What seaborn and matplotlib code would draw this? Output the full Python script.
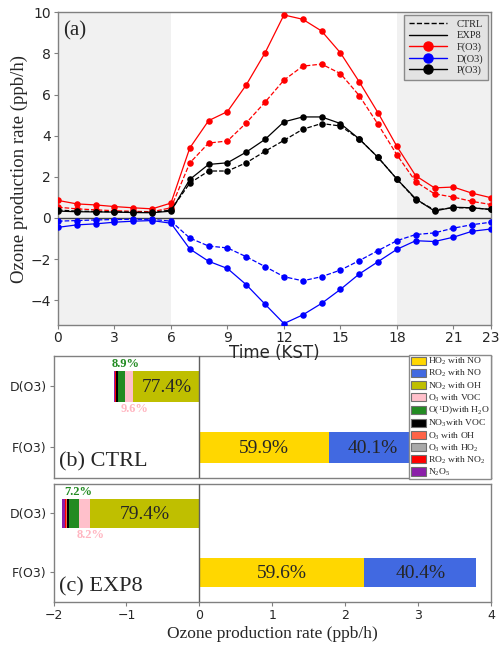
import numpy as np
import matplotlib
matplotlib.use("Agg")
import matplotlib.pyplot as plt
from matplotlib.lines import Line2D
from matplotlib.patches import Patch
import seaborn as sns

# ---------------- data ----------------
hours = list(range(24))
F_ctrl = [0.52, 0.44, 0.39, 0.35, 0.32, 0.30, 0.49, 2.67, 3.64, 3.74, 4.62, 5.63,
          6.70, 7.38, 7.48, 7.02, 5.95, 4.55, 3.07, 1.76, 1.17, 1.01, 0.80, 0.65]
F_exp8 = [0.85, 0.68, 0.63, 0.55, 0.49, 0.44, 0.72, 3.40, 4.73, 5.17, 6.47, 8.03,
          9.87, 9.66, 9.09, 8.03, 6.62, 5.11, 3.48, 2.05, 1.46, 1.50, 1.20, 0.98]
P_ctrl = [0.38, 0.33, 0.31, 0.30, 0.28, 0.27, 0.38, 1.69, 2.28, 2.28, 2.68, 3.24,
          3.77, 4.31, 4.59, 4.47, 3.84, 2.94, 1.89, 0.89, 0.39, 0.49, 0.49, 0.41]
P_exp8 = [0.33, 0.30, 0.29, 0.28, 0.26, 0.25, 0.33, 1.87, 2.60, 2.68, 3.20, 3.82,
          4.67, 4.91, 4.91, 4.59, 3.84, 2.94, 1.89, 0.93, 0.33, 0.52, 0.49, 0.41]
D_ctrl = [-0.16, -0.13, -0.10, -0.08, -0.07, -0.07, -0.16, -0.98, -1.37, -1.46, -1.89, -2.37,
          -2.86, -3.06, -2.86, -2.54, -2.08, -1.59, -1.11, -0.81, -0.73, -0.50, -0.33, -0.21]
D_exp8 = [-0.46, -0.34, -0.29, -0.21, -0.16, -0.13, -0.26, -1.51, -2.11, -2.46, -3.25, -4.20,
          -5.14, -4.72, -4.16, -3.48, -2.73, -2.13, -1.53, -1.11, -1.15, -0.94, -0.65, -0.54]

x_ticks = [0, 3, 6, 9, 12, 15, 18, 21, 23]
y_ticks = [-4, -2, 0, 2, 4, 6, 8, 10]

bar_cats = ["D(O3)", "F(O3)"]
# formation pathways (percent of F)
F_paths = ["HO$_2$ with NO", "RO$_2$ with NO"]
F_pct_ctrl = [59.9, 40.1]
F_pct_exp8 = [59.6, 40.4]
F_total_ctrl = 2.97
F_total_exp8 = 3.80
# destruction pathways (percent of D), stacked from zero leftwards
D_paths = ["NO$_2$ with OH", "O$_3$ with VOC", "O($^1$D)with H$_2$O", "NO$_3$with VOC",
           "O$_3$ with OH", "O$_3$ with HO$_2$", "RO$_2$ with NO$_2$", "N$_2$O$_5$"]
D_pct_ctrl = [77.4, 9.6, 8.9, 1.7, 0.4, 0.2, 0.8, 1.0]
D_pct_exp8 = [79.4, 8.2, 7.2, 1.5, 0.9, 0.3, 0.2, 2.3]
D_total_ctrl = 1.17
D_total_exp8 = 1.88

legend_order = ["HO$_2$ with NO", "RO$_2$ with NO", "NO$_2$ with OH", "O$_3$ with VOC",
                "O($^1$D)with H$_2$O", "NO$_3$with VOC", "O$_3$ with OH", "O$_3$ with HO$_2$",
                "RO$_2$ with NO$_2$", "N$_2$O$_5$"]
colors = {
    "HO$_2$ with NO": "#FFD700",
    "RO$_2$ with NO": "#4169E1",
    "NO$_2$ with OH": "#BFBF00",
    "O$_3$ with VOC": "#FFC0CB",
    "O($^1$D)with H$_2$O": "#228B22",
    "NO$_3$with VOC": "#000000",
    "O$_3$ with OH": "#FF6347",
    "O$_3$ with HO$_2$": "#A9A9A9",
    "RO$_2$ with NO$_2$": "#FF0000",
    "N$_2$O$_5$": "#8B1FA9",
}

# ---------------- style ----------------
sns.set_theme(style="ticks")
plt.rcParams["font.family"] = ["DejaVu Sans"]
plt.rcParams["mathtext.fontset"] = "custom"
plt.rcParams["mathtext.rm"] = "Liberation Serif"
plt.rcParams["mathtext.it"] = "Liberation Serif:italic"
SERIF = "Liberation Serif"
SPINE = "#808080"

fig = plt.figure(figsize=(5.0, 6.47), dpi=100)
ax1 = fig.add_axes([0.116, 0.498, 0.866, 0.483])
ax2 = fig.add_axes([0.107, 0.2612, 0.875, 0.1886])
ax3 = fig.add_axes([0.107, 0.0696, 0.875, 0.1824])
ax1.set_zorder(5)

# ---------------- panel (a) ----------------
ax1.axvspan(0, 6, color="lightgray", alpha=0.3, lw=0, zorder=0)
ax1.axvspan(18, 23, color="lightgray", alpha=0.3, lw=0, zorder=0)
ax1.axhline(0, color="#404040", lw=1.0, zorder=1)

series = [
    (F_ctrl, "red", "--"), (F_exp8, "red", "-"),
    (D_ctrl, "blue", "--"), (D_exp8, "blue", "-"),
    (P_ctrl, "black", "--"), (P_exp8, "black", "-"),
]
for vals, c, ls in series:
    sns.lineplot(x=hours, y=vals, ax=ax1, color=c, linestyle=ls, lw=0.9,
                 marker="o", markersize=4.7, markeredgewidth=0, zorder=3)

ax1.set_xlim(0, 23)
ax1.set_ylim(-5.2, 10)
ax1.set_xticks(x_ticks)
ax1.set_yticks(y_ticks)
ax1.tick_params(labelsize=10, length=3, color=SPINE, width=0.8, pad=2)
ax1.tick_params(axis="x", pad=1.5)
ax1.set_xlabel("Time (KST)", fontsize=12, labelpad=-1)
ax1.set_ylabel("Ozone production rate (ppb/h)", fontsize=13.5, family=SERIF, labelpad=2)
ax1.text(0.012, 0.94, "(a)", transform=ax1.transAxes, fontsize=15, family=SERIF,
         va="center", ha="left")

handles = [
    Line2D([], [], color="black", ls="--", lw=1.0),
    Line2D([], [], color="black", ls="-", lw=1.0),
    Line2D([], [], color="red", ls="-", lw=1.0, marker="o", markersize=6.5),
    Line2D([], [], color="blue", ls="-", lw=1.0, marker="o", markersize=6.5),
    Line2D([], [], color="black", ls="-", lw=1.0, marker="o", markersize=6.5),
]
leg = ax1.legend(handles, ["CTRL", "EXP8", "F(O3)", "D(O3)", "P(O3)"],
                 loc="upper right", prop={"family": SERIF, "size": 7.5},
                 handlelength=3.6, borderaxespad=0.25, labelspacing=0.2,
                 fancybox=False, framealpha=1, handletextpad=1.0, borderpad=0.45)
leg.get_frame().set_facecolor("#e3e3e3")
leg.get_frame().set_edgecolor("#8a8a8a")
leg.get_frame().set_linewidth(1.0)

# ---------------- panels (b) and (c) ----------------
def draw_bars(ax, F_pct, F_total, D_pct, D_total, tag, dy_small):
    ypos = {"D(O3)": 0, "F(O3)": 1}
    h = 0.5
    left = 0.0
    for name, p in zip(F_paths, F_pct):
        w = F_total * p / 100.0
        ax.barh(ypos["F(O3)"], w, left=left, height=h, color=colors[name],
                edgecolor="none", zorder=2)
        ax.text(left + w / 2, ypos["F(O3)"] + 0.02, f"{p}%", ha="center", va="center",
                fontsize=14, family=SERIF, zorder=4)
        left += w
    right = 0.0
    segs = []
    for name, p in zip(D_paths, D_pct):
        w = D_total * p / 100.0
        ax.barh(ypos["D(O3)"], -w, left=right, height=h, color=colors[name],
                edgecolor="none", zorder=2)
        segs.append((right - w, right))
        right -= w
    a, b = segs[0]
    ax.text((a + b) / 2, 0.02, f"{D_pct[0]}%", ha="center", va="center",
            fontsize=14, family=SERIF, zorder=4)
    a, b = segs[1]
    ax.text((a + b) / 2 + 0.08, 0.27, f"{D_pct[1]}%", ha="center", va="top",
            fontsize=9, family=SERIF, fontweight="bold", color="#FFB6C1", zorder=4)
    a, b = segs[2]
    ax.text((a + b) / 2 + 0.06, -0.27, f"{D_pct[2]}%", ha="center", va="bottom",
            fontsize=9, family=SERIF, fontweight="bold", color="#228B22", zorder=4)

    ax.axvline(0, color="#606060", lw=1.0, zorder=3)
    ax.set_xlim(-2, 4)
    ax.set_ylim(1.5, -0.5)
    ax.set_yticks([0, 1])
    ax.set_yticklabels(bar_cats)
    ax.tick_params(labelsize=9, length=3, color=SPINE, width=0.8, pad=2)
    ax.text(0.012, dy_small, tag, transform=ax.transAxes, fontsize=16, family=SERIF,
            va="center", ha="left")

draw_bars(ax2, F_pct_ctrl, F_total_ctrl, D_pct_ctrl, D_total_ctrl, "(b) CTRL", 0.13)
draw_bars(ax3, F_pct_exp8, F_total_exp8, D_pct_exp8, D_total_exp8, "(c) EXP8", 0.13)
ax2.tick_params(axis="x", bottom=False, labelbottom=False)
ax3.set_xticks([-2, -1, 0, 1, 2, 3, 4])
ax3.set_xlabel("Ozone production rate (ppb/h)", fontsize=12.5, family=SERIF, labelpad=3)

patches = [Patch(facecolor=colors[n], edgecolor="#707070", linewidth=0.8) for n in legend_order]
leg2 = ax2.legend(patches, legend_order, loc="center right",
                  prop={"family": SERIF, "size": 6.8}, handlelength=1.6, handleheight=0.95,
                  handletextpad=0.2, labelspacing=0.1, borderaxespad=0.0,
                  borderpad=0.15, fancybox=False, framealpha=1, edgecolor="#8a8a8a")
leg2.get_frame().set_linewidth(1.0)

for ax in (ax1, ax2, ax3):
    for s in ax.spines.values():
        s.set_color(SPINE)
        s.set_linewidth(1.0)

fig.savefig("out.png", dpi=100)
